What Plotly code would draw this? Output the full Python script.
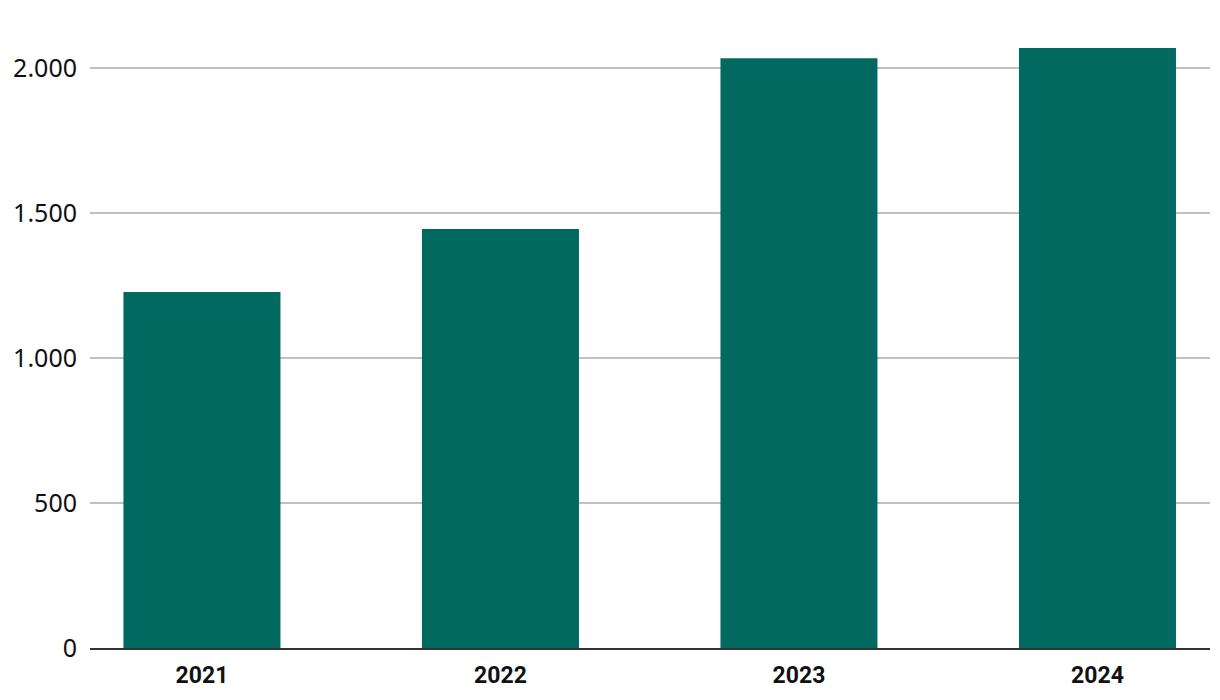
import plotly.graph_objects as go

years = ["2021", "2022", "2023", "2024"]
values = [1228, 1445, 2034, 2069]
tick_vals = [0, 500, 1000, 1500, 2000]
tick_text = ["0", "500", "1.000", "1.500", "2.000"]

fig = go.Figure(go.Bar(
    x=years, y=values,
    marker=dict(color="#026961", line=dict(width=0)),
    hoverinfo="x+y",
))

# page body has an 8px margin, so margins are compensated
fig.update_layout(
    width=1220, height=700,
    margin=dict(l=82, r=18, t=2, b=60, autoexpand=False),
    plot_bgcolor="white", paper_bgcolor="white",
    bargap=0.474,
    showlegend=False,
    font=dict(family="Noto Sans, Open Sans, sans-serif", color="#111111"),
)
fig.update_xaxes(
    type="category",
    range=[-0.375, 3.377],
    automargin=False,
    showgrid=False,
    showline=True, linecolor="#333333", linewidth=2,
    ticks="", ticklen=0, ticklabelstandoff=5,
    tickfont=dict(family="Liberation Sans Narrow, Roboto, sans-serif", size=23, color="#111111", weight="bold"),
)
fig.update_yaxes(
    range=[0, 2200],
    automargin=False,
    tickvals=tick_vals, ticktext=tick_text,
    showgrid=True, gridcolor="#c0c0c0", gridwidth=1.5,
    zeroline=False,
    showline=False,
    ticks="", ticklabelstandoff=12,
    tickfont=dict(size=25, color="#111111"),
)

fig.write_html("out.html")
